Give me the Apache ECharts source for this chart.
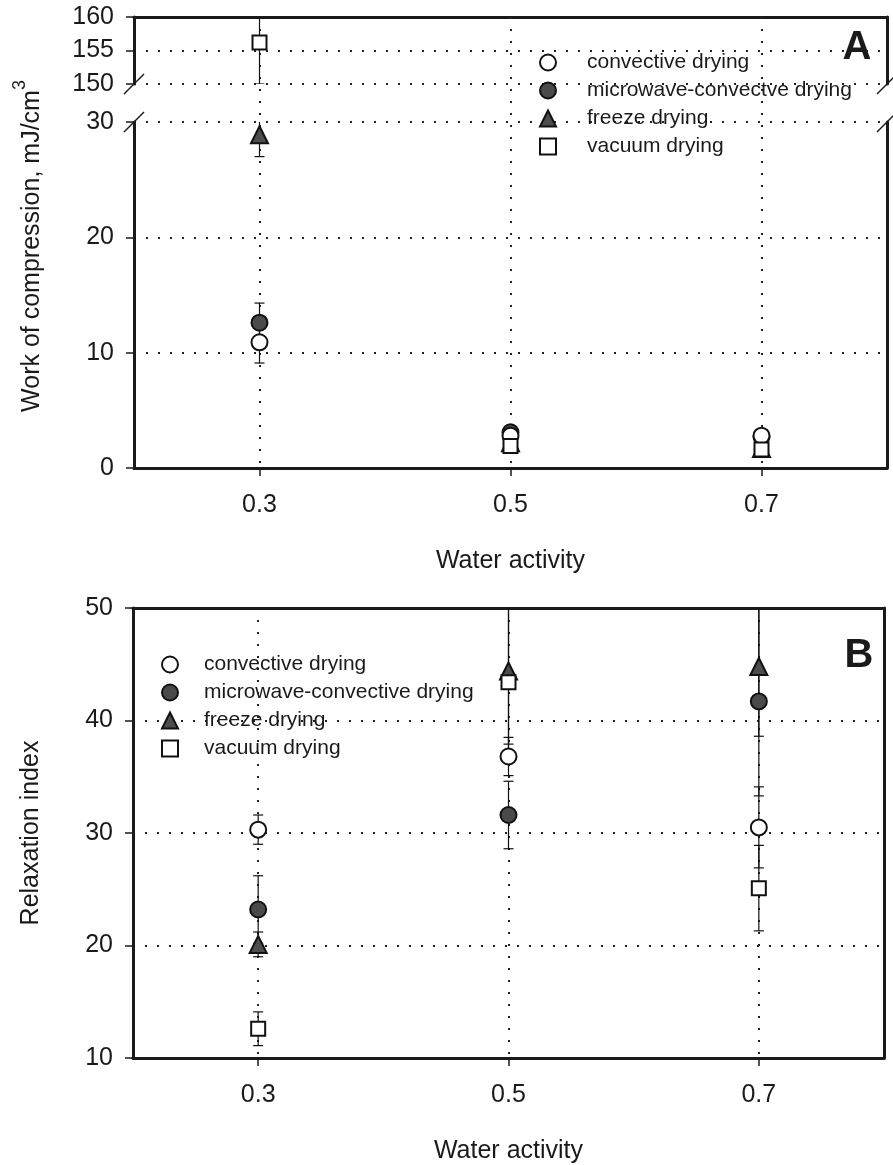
<!DOCTYPE html>
<html>
<head>
<meta charset="utf-8">
<title>Work of compression / Relaxation index</title>
<script src="https://cdn.jsdelivr.net/npm/echarts@6.0.0/dist/echarts.min.js"></script>
<style>
html, body { margin: 0; padding: 0; background: #fff; }
#container { width: 893px; height: 1165px; }
</style>
</head>
<body>
<div id="container"></div>
<script>
// water activity levels (x)
var xVals = [0.3, 0.5, 0.7];
var xTicks = [0.3, 0.5, 0.7];

// panel A: work of compression, mJ/cm3 (mean, +/- error)
var aConv = [10.9, 2.8, 2.8];
var aConvErr = [1.8, 0.3, 0.3];
var aMicro = [12.6, 3.1, 2.7];
var aMicroErr = [1.7, 0.3, 0.3];
var aFreeze = [28.9, 2.2, 1.7];
var aFreezeErr = [1.9, 0.3, 0.3];
var aVac = [156.2, 1.9, 1.6];
var aVacErr = [6.2, 0.3, 0.3];

// panel B: relaxation index
var bConv = [30.3, 36.8, 30.5];
var bConvErr = [1.3, 1.7, 3.6];
var bMicro = [23.2, 31.6, 41.7];
var bMicroErr = [3.0, 3.0, 8.4];
var bFreeze = [20.1, 44.4, 44.8];
var bFreezeErr = [1.1, 6.5, 6.2];
var bVac = [12.6, 43.4, 25.1];
var bVacErr = [1.5, 6.8, 3.8];

var namesA = ['convective drying', 'microwave-convectve drying', 'freeze drying', 'vacuum drying'];
var namesB = ['convective drying', 'microwave-convective drying', 'freeze drying', 'vacuum drying'];

// layout
var A_LEFT = 134, A_RIGHT = 6, A_TOP = 17, A_UP_H = 67, A_LOW_TOP = 122, A_LOW_H = 346;
var B_LEFT = 133, B_RIGHT = 9, B_TOP = 608, B_H = 450;
var W = 893;

var FONT = "'Liberation Sans', Arial, Helvetica, sans-serif";
var INK = '#1a1a1a';

var myChart = echarts.init(document.getElementById('container'));

var border = { show: true, onZero: false, lineStyle: { color: INK, width: 3 } };
var noLine = { show: false };
var dotted = { show: true, lineStyle: { color: '#222', width: 2, type: [2, 10] } };
var tickOut = { show: true, inside: false, length: 8, lineStyle: { color: INK, width: 1.5 } };
var nameStyle = { color: INK, fontSize: 25, fontFamily: FONT };

// symbol styles per method
var styles = {
	conv:   { symbol: 'circle',   size: 16, color: '#ffffff' },
	micro:  { symbol: 'circle',   size: 16, color: '#4a4a4a' },
	freeze: { symbol: 'triangle', size: 17, color: '#4d4d4d' },
	vac:    { symbol: 'rect',     size: 14, color: '#ffffff' }
};

function dots(name, vals, st, xi, yi) {
	return {
		name: name, type: 'scatter', xAxisIndex: xi, yAxisIndex: yi,
		symbol: st.symbol, symbolSize: st.size, clip: true, z: 4,
		itemStyle: { color: st.color, borderColor: '#111', borderWidth: 2, opacity: 1 },
		data: xVals.map(function (x, i) { return [x, vals[i]]; })
	};
}

function errRender(params, api) {
	var x = api.value(0);
	var lo = api.coord([x, api.value(1)]);
	var hi = api.coord([x, api.value(2)]);
	var w = 5;
	var st = { stroke: '#111', lineWidth: 1.2, fill: null };
	return {
		type: 'group',
		children: [
			{ type: 'line', shape: { x1: hi[0], y1: hi[1], x2: lo[0], y2: lo[1] }, style: st },
			{ type: 'line', shape: { x1: hi[0] - w, y1: hi[1], x2: hi[0] + w, y2: hi[1] }, style: st },
			{ type: 'line', shape: { x1: lo[0] - w, y1: lo[1], x2: lo[0] + w, y2: lo[1] }, style: st }
		]
	};
}

function bars(name, vals, errs, xi, yi) {
	return {
		name: name, type: 'custom', xAxisIndex: xi, yAxisIndex: yi,
		clip: true, silent: true, z: 3, renderItem: errRender,
		data: xVals.map(function (x, i) { return [x, vals[i] - errs[i], vals[i] + errs[i]]; })
	};
}

// draw order: freeze, micro, conv, vacuum (later on top)
var seriesList = [];
function addPanel(names, conv, convE, micro, microE, freeze, freezeE, vac, vacE, xi, yi) {
	seriesList.push(dots(names[2], freeze, styles.freeze, xi, yi));
	seriesList.push(dots(names[1], micro, styles.micro, xi, yi));
	seriesList.push(dots(names[0], conv, styles.conv, xi, yi));
	seriesList.push(dots(names[3], vac, styles.vac, xi, yi));
	seriesList.push(bars(names[2], freeze, freezeE, xi, yi));
	seriesList.push(bars(names[1], micro, microE, xi, yi));
	seriesList.push(bars(names[0], conv, convE, xi, yi));
	seriesList.push(bars(names[3], vac, vacE, xi, yi));
}
// A lower (0-30) and A upper (150-160) share the same data, clipping keeps each part
addPanel(namesA, aConv, aConvErr, aMicro, aMicroErr, aFreeze, aFreezeErr, aVac, aVacErr, 2, 3);
addPanel(namesA, aConv, aConvErr, aMicro, aMicroErr, aFreeze, aFreezeErr, aVac, aVacErr, 1, 1);
addPanel(namesB, bConv, bConvErr, bMicro, bMicroErr, bFreeze, bFreezeErr, bVac, bVacErr, 3, 5);

// break marks on panel A frame
var gapTop = A_TOP + A_UP_H, gapBot = A_LOW_TOP;
function slash(cx, cy) {
	return { type: 'line', shape: { x1: cx - 10, y1: cy + 10, x2: cx + 10, y2: cy - 10 },
		style: { stroke: INK, lineWidth: 1.5 }, z: 10 };
}
var xR = W - A_RIGHT;

function yLabel() {
	return { margin: 20, color: INK, fontSize: 25, fontFamily: FONT, showMinLabel: true, showMaxLabel: true };
}

myChart.setOption({
	animation: false,
	backgroundColor: '#ffffff',
	grid: [
		{ left: A_LEFT, right: A_RIGHT, top: A_TOP, height: A_LOW_TOP + A_LOW_H - A_TOP, outerBoundsMode: 'none' },
		{ left: A_LEFT, right: A_RIGHT, top: A_TOP, height: A_UP_H, outerBoundsMode: 'none' },
		{ left: A_LEFT, right: A_RIGHT, top: A_LOW_TOP, height: A_LOW_H, outerBoundsMode: 'none' },
		{ left: B_LEFT, right: B_RIGHT, top: B_TOP, height: B_H, outerBoundsMode: 'none' }
	],
	xAxis: [
		{ gridIndex: 0, type: 'value', min: 0.2, max: 0.8, axisLine: noLine,
			axisTick: { show: false, customValues: xTicks }, axisLabel: { show: false, customValues: xTicks },
			splitLine: dotted, z: 1 },
		{ gridIndex: 1, type: 'value', position: 'top', min: 0.2, max: 0.8, axisLine: border,
			axisTick: { show: false }, axisLabel: { show: false }, splitLine: { show: false } },
		{ gridIndex: 2, type: 'value', position: 'bottom', min: 0.2, max: 0.8, axisLine: border,
			axisTick: { show: true, inside: false, length: 8, customValues: xTicks, lineStyle: { color: INK, width: 1.5 } },
			axisLabel: { customValues: xTicks, margin: 25, color: INK, fontSize: 25, fontFamily: FONT },
			splitLine: { show: false },
			name: 'Water activity', nameLocation: 'middle', nameGap: 81, nameTextStyle: nameStyle },
		{ gridIndex: 3, type: 'value', position: 'bottom', min: 0.2, max: 0.8, axisLine: border,
			axisTick: { show: true, inside: false, length: 8, customValues: xTicks, lineStyle: { color: INK, width: 1.5 } },
			axisLabel: { customValues: xTicks, margin: 25, color: INK, fontSize: 25, fontFamily: FONT },
			splitLine: dotted,
			name: 'Water activity', nameLocation: 'middle', nameGap: 81, nameTextStyle: nameStyle },
		{ gridIndex: 3, type: 'value', position: 'top', min: 0.2, max: 0.8, axisLine: border,
			axisTick: { show: false }, axisLabel: { show: false }, splitLine: { show: false } }
	],
	yAxis: [
		{ gridIndex: 0, type: 'value', min: 0, max: 1, show: false },
		{ gridIndex: 1, type: 'value', position: 'left', min: 150, max: 160, interval: 5, axisLine: border,
			axisTick: tickOut, axisLabel: yLabel(), splitLine: dotted },
		{ gridIndex: 1, type: 'value', position: 'right', min: 150, max: 160, axisLine: border,
			axisTick: { show: false }, axisLabel: { show: false }, splitLine: { show: false } },
		{ gridIndex: 2, type: 'value', position: 'left', min: 0, max: 30, interval: 10, axisLine: border,
			axisTick: tickOut, axisLabel: yLabel(), splitLine: dotted },
		{ gridIndex: 2, type: 'value', position: 'right', min: 0, max: 30, axisLine: border,
			axisTick: { show: false }, axisLabel: { show: false }, splitLine: { show: false } },
		{ gridIndex: 3, type: 'value', position: 'left', min: 10, max: 50, interval: 10, axisLine: border,
			axisTick: tickOut, axisLabel: yLabel(), splitLine: dotted,
			name: 'Relaxation index', nameLocation: 'middle', nameGap: 89, nameTextStyle: nameStyle },
		{ gridIndex: 3, type: 'value', position: 'right', min: 10, max: 50, axisLine: border,
			axisTick: { show: false }, axisLabel: { show: false }, splitLine: { show: false } }
	],
	legend: [
		{ data: namesA, orient: 'vertical', left: 534, top: 47, itemWidth: 16, itemHeight: 16, itemGap: 7,
			selectedMode: false,
			textStyle: { color: INK, fontSize: 21, fontFamily: FONT, padding: [0, 0, 0, 26] } },
		{ data: namesB, orient: 'vertical', left: 156, top: 649, itemWidth: 16, itemHeight: 16, itemGap: 7,
			selectedMode: false,
			textStyle: { color: INK, fontSize: 21, fontFamily: FONT, padding: [0, 0, 0, 21] } }
	],
	graphic: [
		{ type: 'text', x: 28, y: 246, rotation: Math.PI / 2, z: 10,
			style: { text: '{n|Work of compression, mJ/cm}{s|3}', align: 'center', verticalAlign: 'middle',
				fill: INK,
				rich: {
					n: { fontSize: 25, fontFamily: FONT, fill: INK, lineHeight: 34, verticalAlign: 'bottom' },
					s: { fontSize: 18, fontFamily: FONT, fill: INK, lineHeight: 34, verticalAlign: 'top' }
				} } },
		{ type: 'text', x: 857, y: 48, z: 10,
			style: { text: 'A', font: 'bold 40px ' + FONT, fill: INK, align: 'center', verticalAlign: 'middle' } },
		{ type: 'text', x: 859, y: 656, z: 10,
			style: { text: 'B', font: 'bold 40px ' + FONT, fill: INK, align: 'center', verticalAlign: 'middle' } },
		slash(A_LEFT, gapTop),
		slash(A_LEFT, gapBot),
		slash(xR, gapTop),
		slash(xR, gapBot)
	],
	series: seriesList
});
</script>
</body>
</html>
